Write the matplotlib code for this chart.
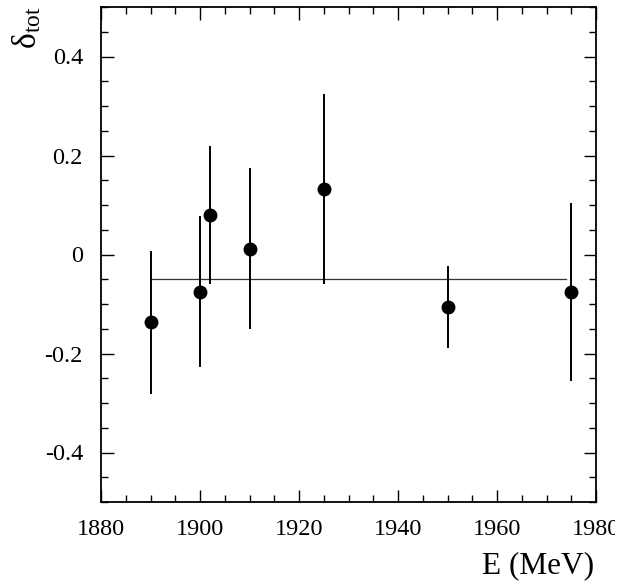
import matplotlib
matplotlib.use("Agg")
import matplotlib.pyplot as plt
from matplotlib.ticker import MultipleLocator, FuncFormatter
from matplotlib.transforms import Bbox, TransformedBbox

# --- data ---
energy = [1890, 1900, 1902, 1910, 1925, 1950, 1975]
delta_tot = [-0.137, -0.075, 0.080, 0.012, 0.133, -0.106, -0.075]
delta_err = [0.145, 0.152, 0.139, 0.162, 0.192, 0.083, 0.180]

# fitted constant shown as a horizontal line
fit_x = [1890, 1974]
fit_value = -0.05

plt.rcParams["font.family"] = ["Liberation Serif", "DejaVu Serif"]
plt.rcParams["mathtext.fontset"] = "custom"
plt.rcParams["mathtext.rm"] = "Liberation Serif"
plt.rcParams["mathtext.it"] = "Liberation Serif:italic"

fig = plt.figure(figsize=(6.44, 5.82), dpi=100)
ax = fig.add_axes([101 / 644, 1 - 502 / 582, 495 / 644, 495 / 582])

ax.plot(fit_x, [fit_value, fit_value], color="#333333", lw=0.9, zorder=1)
ax.errorbar(energy, delta_tot, yerr=delta_err, fmt="o", color="black",
            ms=9, elinewidth=1.4, capsize=0, zorder=2)

ax.set_xlim(1880, 1980)
ax.set_ylim(-0.5, 0.5)
ax.xaxis.set_major_locator(MultipleLocator(20))
ax.xaxis.set_minor_locator(MultipleLocator(5))
ax.yaxis.set_major_locator(MultipleLocator(0.2))
ax.yaxis.set_minor_locator(MultipleLocator(0.05))
ax.yaxis.set_major_formatter(FuncFormatter(
    lambda v, p: "0" if abs(v) < 1e-9 else f"{v:.1f}"))

ax.tick_params(which="both", direction="in", top=True, right=True, width=1.0)
ax.tick_params(which="major", length=9, labelsize=17.5)
ax.tick_params(axis="x", which="major", pad=12)
ax.tick_params(axis="y", which="major", pad=13)
ax.tick_params(which="minor", length=5)
for s in ax.spines.values():
    s.set_linewidth(1.3)

# the last x tick label is cut off a little past the frame in the reference
clip = TransformedBbox(Bbox([[0, 0], [615 / 644, 1]]), fig.transFigure)
for lab in ax.get_xticklabels():
    lab.set_clip_on(True)
    lab.set_clip_box(clip)

fig.text(594 / 644, 2 / 582, "E (MeV)", ha="right", va="bottom", fontsize=22.5)
fig.text(27 / 644, 1 - 6 / 582, r"$\mathrm{\delta}_{\rm tot}$", rotation=90,
         ha="center", va="top", fontsize=24)

fig.savefig("out.png", dpi=100)
